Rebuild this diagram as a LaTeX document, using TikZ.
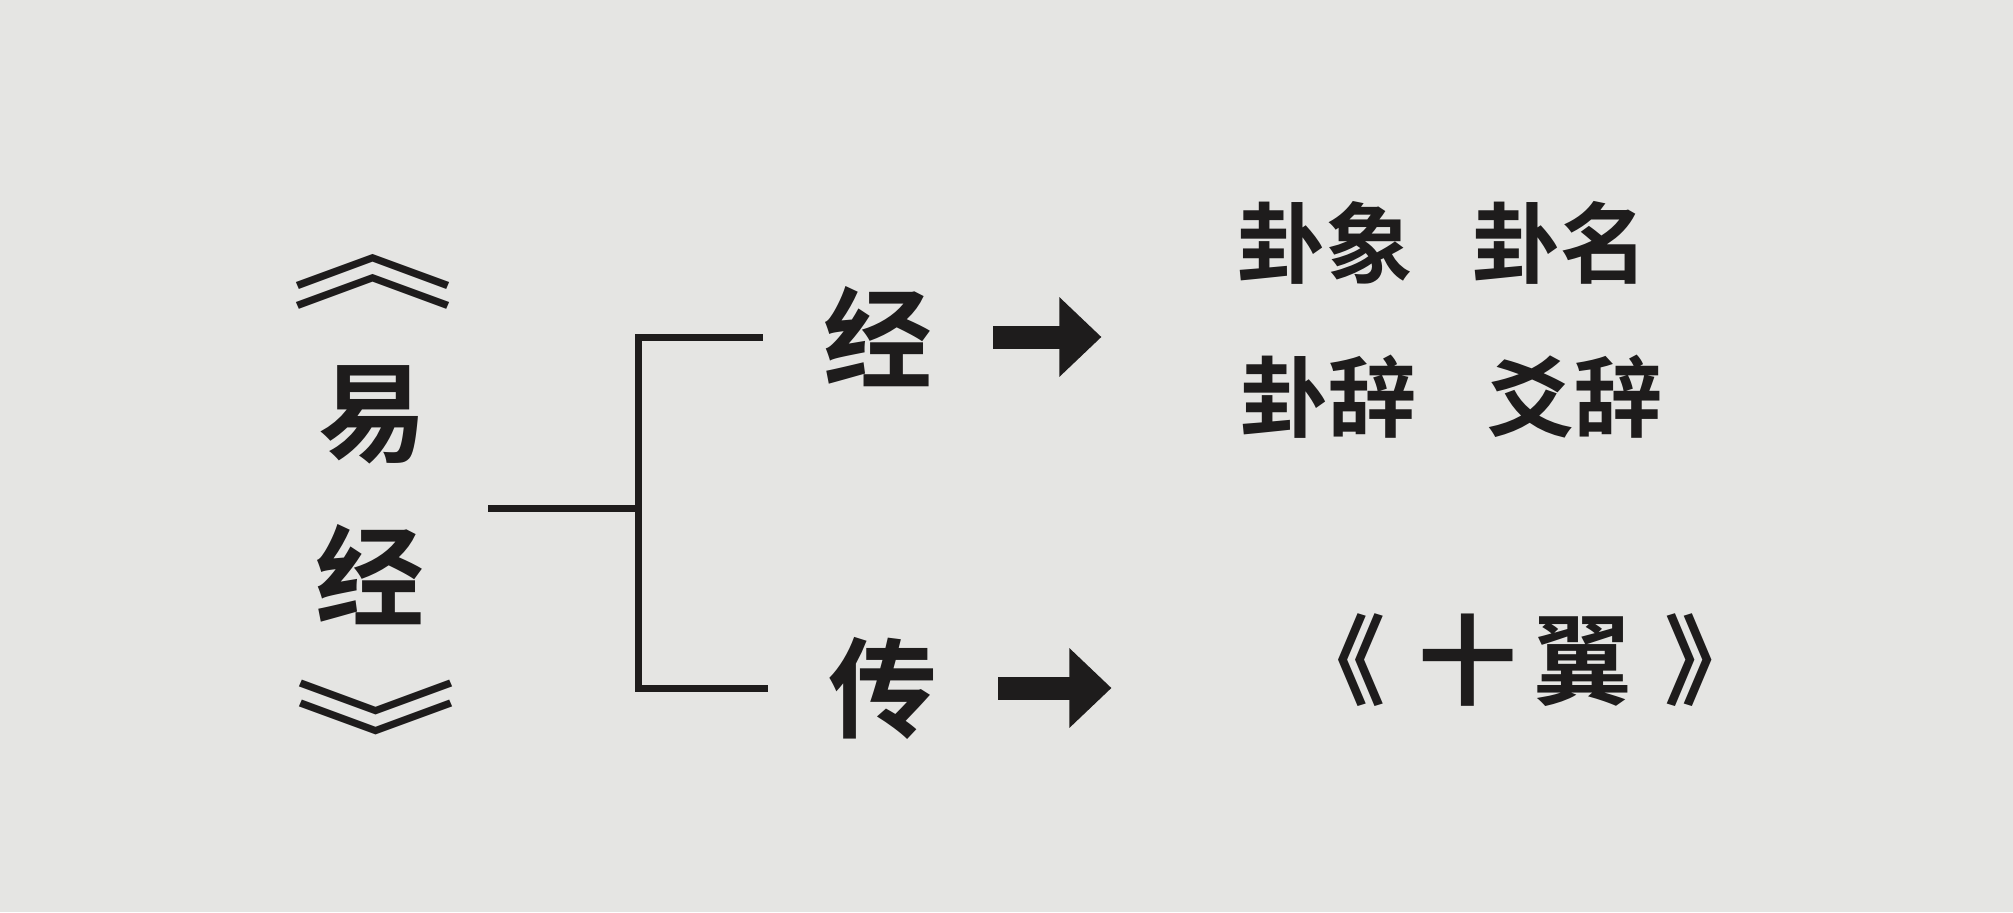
\documentclass[tikz,border=0pt]{standalone}
\usepackage{fontspec}
\usepackage{tikz}
\usetikzlibrary{arrows.meta,calc}
\newfontfamily\cjk{Noto Sans CJK SC}
\newfontfamily\cjkbf{Noto Sans CJK SC Bold}
\definecolor{paper}{RGB}{229,229,227}
\definecolor{ink}{RGB}{30,28,28}

\begin{document}
\begin{tikzpicture}[x=1cm,y=1cm,
    bigchar/.style={inner sep=0pt,inner xsep=0.6cm,text=ink,font=\cjkbf\fontsize{31}{31}\selectfont},
    item/.style={inner sep=0pt,text=ink,font=\cjkbf\fontsize{25}{25}\selectfont},
    chev/.style={inner sep=0pt,text=ink,font=\cjk\fontsize{40}{40}\selectfont},
    bracket/.style={draw=ink,line width=0.07cm},
    blockarrow/.style={draw=ink,line width=0.23cm,-{Triangle[length=0.42cm,width=0.77cm]}}]
      \fill[paper] (0,0) rectangle (20.13,-9.12);
      % book title, set vertically
      \node[chev,rotate=-90] (opn) at (3.73,-2.51) {\scalebox{0.9}[1.17]{《}};
      \node[bigchar] (yi) at (3.73,-4.15) {易};
      \node[bigchar] (jingT) at (3.70,-5.75) {经};
      \node[chev,rotate=-90] (cls) at (3.76,-7.39) {\scalebox{0.9}[1.17]{》}};
      % two parts
      \node[bigchar] (jing) at (8.78,-3.37) {经};
      \node[bigchar] (zhuan) at (8.83,-6.88) {传};
      \coordinate (stub) at (4.88,-5.08);
      \coordinate (fork) at (6.38,-5.08);
      \draw[bracket] (stub) -- (fork);
      \draw[bracket] (jing.west) -| (fork) |- (zhuan.west);
      % contents of the jing
      \foreach \nm/\x/\y/\txt in {guaxiang/13.25/-2.43/卦象,guaming/15.60/-2.43/卦名,
        guaci/13.28/-3.97/卦辞,yaoci/15.74/-3.97/爻辞}{
        \node[item] (\nm) at (\x,\y) {\txt};
      }
      \node[item,font=\cjkbf\fontsize{28}{28}\selectfont] (shiyi) at (15.25,-6.60) {《\,\,十\,翼\,\,》};
      \draw[blockarrow,shorten >=1.35cm] (jing.east) -- (guaxiang.west |- jing.east);
      \draw[blockarrow,shorten >=1.75cm] (zhuan.east) -- (shiyi.west |- zhuan.east);
\end{tikzpicture}
\end{document}
